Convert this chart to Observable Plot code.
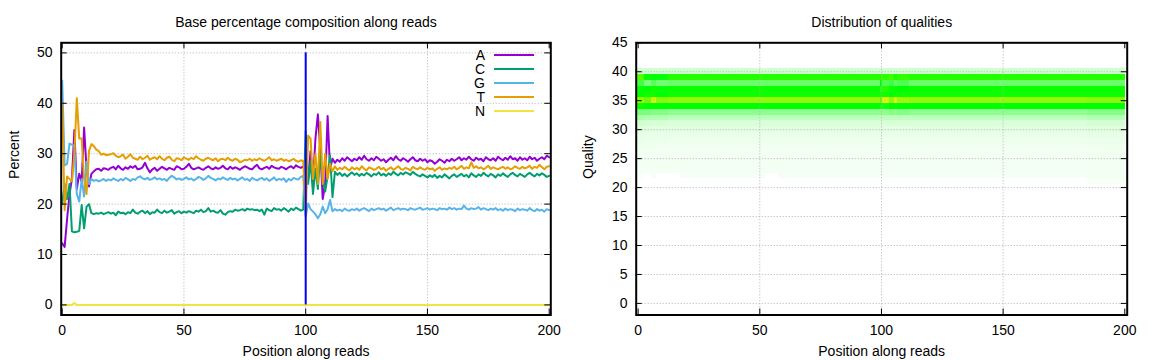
<!DOCTYPE html>
<html><head><meta charset="utf-8">
<script src="https://cdn.jsdelivr.net/npm/d3@7"></script>
<script src="https://cdn.jsdelivr.net/npm/@observablehq/plot@0.6"></script>
<style>
html,body{margin:0;padding:0;background:#fff;}
#wrap{display:flex;width:1152px;height:360px;overflow:hidden;}
#wrap svg{display:block;flex:none;}
</style></head><body><div id="wrap"></div>
<script>
// ---------- data ----------
const positions = d3.range(0, 201);
const baseNames = ["A", "C", "G", "T", "N"];
const baseColors = ["#9400d3", "#009e73", "#56b4e9", "#e69f00", "#f0e442"];

const seriesA = [
12.2,11.5,17.0,22.0,25.0,34.7,23.0,26.0,24.5,35.2,
27.0,23.5,26.0,26.5,26.9,27.0,26.6,27.1,27.0,26.8,
27.2,27.4,26.9,27.6,27.1,26.8,27.3,27.0,27.5,27.2,
27.6,26.9,27.0,27.3,28.2,27.1,26.3,26.9,27.2,26.6,
27.0,27.4,27.1,26.8,27.2,27.0,26.8,27.5,27.3,26.9,
27.0,27.4,28.0,27.2,26.9,27.1,27.3,27.0,26.8,27.2,
27.5,27.1,26.9,27.3,27.0,27.2,27.6,27.1,26.9,27.4,
27.0,27.3,27.1,26.8,27.2,27.5,27.3,27.0,26.9,27.4,
27.8,27.1,26.9,27.2,27.4,27.0,27.6,27.3,27.1,27.0,
27.4,27.2,26.9,27.3,27.5,27.1,27.7,27.4,27.2,27.5,
27.3,25.0,30.5,24.0,33.0,37.8,31.0,21.0,24.0,37.5,
27.0,29.0,28.2,28.8,28.4,29.1,28.6,29.3,28.9,28.5,
29.0,28.7,29.3,28.8,29.6,28.9,28.6,29.1,28.7,29.4,
29.0,28.6,28.9,28.3,28.8,29.2,28.7,29.5,28.9,28.6,
29.1,28.8,28.4,28.9,29.3,28.7,28.5,29.0,28.6,28.9,
28.3,28.7,28.5,28.0,28.4,28.9,28.6,28.2,28.8,28.5,
29.0,28.6,28.9,29.3,28.7,29.1,28.8,29.4,28.9,28.6,
29.2,28.8,29.0,28.5,29.3,28.9,28.7,29.1,28.6,29.4,
29.0,28.7,29.2,28.8,29.5,28.9,29.1,28.6,29.3,28.8,
29.1,28.7,29.4,28.9,29.2,28.6,29.0,29.3,28.9,29.6,
29.3];

const seriesC = [
20.0,24.0,21.0,24.0,14.6,14.4,14.5,14.7,19.8,15.2,
19.5,20.0,18.2,18.0,18.2,18.1,18.3,18.0,18.2,18.4,
18.1,18.3,17.8,18.5,18.2,18.3,18.0,18.4,18.2,18.9,
18.3,18.1,18.5,18.7,18.2,18.6,18.0,18.4,18.3,18.9,
18.4,18.2,18.7,18.3,18.5,18.8,18.1,18.4,18.6,18.2,
18.5,18.3,18.6,18.4,18.2,18.7,18.5,18.9,18.4,18.6,
19.2,18.5,18.7,18.4,18.3,18.8,18.1,17.9,18.4,18.6,
18.5,18.9,18.7,18.8,19.0,18.7,19.1,18.9,19.0,18.8,
18.9,18.6,18.9,17.9,19.1,18.8,18.6,19.2,18.9,19.0,
18.7,19.2,18.9,18.5,19.1,18.8,19.3,19.0,18.7,18.9,
34.5,24.0,28.5,22.0,27.0,23.0,30.0,25.0,22.5,25.5,
29.7,21.4,26.4,25.8,26.2,25.6,26.0,25.5,25.9,26.3,
25.8,26.1,25.6,26.0,25.7,26.2,25.9,25.5,26.0,25.8,
26.3,25.7,26.0,25.6,26.1,25.8,26.4,26.0,25.7,26.2,
25.9,26.3,26.1,25.8,26.4,26.0,25.7,25.5,25.9,25.6,
25.3,25.7,25.4,25.8,25.2,25.6,25.3,25.9,25.5,25.1,
25.6,25.9,25.4,25.7,26.0,25.5,25.8,25.3,26.1,25.7,
25.4,25.9,25.6,26.2,25.8,25.5,26.0,25.7,25.3,25.9,
25.6,26.1,25.7,25.4,25.9,26.2,25.8,25.5,26.0,25.7,
25.4,25.9,26.2,25.8,25.5,26.0,25.7,26.1,25.8,25.4,
25.6];

const seriesG = [
44.5,27.7,28.0,32.0,31.8,31.5,22.0,20.5,25.0,21.5,
28.4,24.0,25.0,24.6,24.8,24.5,24.7,25.0,24.6,24.9,
24.7,25.1,24.8,24.6,25.0,24.7,25.2,24.9,24.6,25.0,
24.8,25.3,25.5,25.1,24.9,25.2,24.8,25.0,25.3,24.9,
25.1,24.8,25.0,24.6,25.2,25.6,25.3,24.9,25.1,24.8,
25.0,25.3,24.9,25.1,24.7,25.0,25.4,25.2,24.8,25.1,
25.6,25.2,25.0,24.7,25.1,24.9,25.3,25.0,24.8,25.2,
24.9,25.1,24.7,25.0,25.3,24.8,25.0,24.6,25.2,24.9,
24.7,25.0,25.2,24.8,25.1,24.6,24.9,25.3,24.7,25.0,
24.8,25.1,24.4,25.0,24.7,25.2,25.0,24.9,25.4,25.6,
17.5,20.1,19.0,18.5,18.0,17.2,18.0,19.5,18.2,19.0,
20.8,18.6,19.0,18.7,18.9,18.6,19.1,18.8,18.7,19.0,
18.8,19.1,18.7,19.0,19.2,18.9,18.6,19.1,18.8,19.0,
19.2,18.9,19.1,18.7,19.0,19.3,18.8,19.0,19.2,18.9,
19.1,19.0,18.8,19.2,19.0,18.9,19.1,19.3,18.9,19.0,
19.2,18.9,19.1,19.0,18.8,19.2,19.0,19.1,18.9,19.3,
19.0,19.2,18.9,19.1,19.0,19.7,19.1,18.9,19.2,19.0,
19.1,19.4,18.9,19.2,19.0,18.8,19.1,18.9,19.2,18.8,
19.0,18.7,19.1,18.8,19.0,18.9,18.6,19.1,18.8,19.0,
18.9,18.7,19.2,18.8,18.6,19.0,18.7,18.9,18.5,19.0,
18.8];

const seriesT = [
40.0,18.8,25.5,25.0,24.5,30.0,41.0,33.0,33.0,25.0,
22.0,30.5,31.9,31.5,30.8,30.5,29.8,30.0,29.7,29.8,
29.9,30.1,29.6,29.3,29.5,29.8,29.0,29.4,29.9,29.2,
29.0,28.8,29.4,28.9,29.2,29.6,28.8,29.1,29.3,28.9,
29.5,29.0,28.7,29.2,29.4,28.8,28.5,29.1,29.0,28.7,
29.3,29.0,28.8,29.2,28.9,29.5,29.1,28.8,28.6,29.0,
29.2,28.9,28.7,29.1,28.5,28.9,29.0,28.7,29.2,28.8,
28.6,29.0,28.8,28.3,28.5,28.8,28.7,29.0,28.6,28.9,
28.7,29.1,28.8,28.6,28.9,29.3,28.7,28.9,28.6,28.8,
29.0,28.6,28.8,28.5,28.7,29.0,28.6,28.4,28.7,28.5,
17.8,33.6,33.0,25.0,30.0,24.0,36.3,24.0,30.0,25.0,
28.0,26.5,27.5,26.8,27.2,26.9,27.4,27.0,26.7,27.3,
26.9,27.2,26.8,27.5,27.0,26.7,27.3,27.1,26.8,27.0,
27.4,26.9,27.2,26.6,27.0,27.3,26.8,27.1,27.5,27.0,
26.8,27.2,27.0,26.7,27.4,27.1,26.9,27.3,27.0,26.8,
27.2,26.9,27.1,26.6,27.0,27.3,26.8,27.1,26.9,27.2,
27.0,27.4,26.9,27.2,27.6,27.0,27.3,27.1,28.3,27.2,
27.5,27.1,27.3,26.9,27.2,27.6,27.0,27.3,27.1,26.9,
27.2,27.4,27.0,27.3,26.9,27.1,27.5,27.2,27.0,27.4,
27.1,27.3,27.6,27.0,27.4,27.2,27.8,27.3,26.9,27.4,
27.5];

const seriesN = [
0,0,0,0,0,0.4,0,0,0,0, 0,0,0,0,0,0,0,0,0,0, 0,0,0,0,0,0,0,0,0,0,
0,0,0,0,0,0,0,0,0,0, 0,0,0,0,0,0,0,0,0,0, 0,0,0,0,0,0,0,0,0,0,
0,0,0,0,0,0,0,0,0,0, 0,0,0,0,0,0,0,0,0,0, 0,0,0,0,0,0,0,0,0,0,
0,0,0,0,0,0,0,0,0,0, 0,0,0,0,0,0,0,0,0,0, 0,0,0,0,0,0,0,0,0,0,
0,0,0,0,0,0,0,0,0,0, 0,0,0,0,0,0,0,0,0,0, 0,0,0,0,0,0,0,0,0,0,
0,0,0,0,0,0,0,0,0,0, 0,0,0,0,0,0,0,0,0,0, 0,0,0,0,0,0,0,0,0,0,
0,0,0,0,0,0,0,0,0,0, 0,0,0,0,0,0,0,0,0,0,
0];

const cutPosition = [100];
const cutExtent = [0, 50];

const xTicks = [0, 50, 100, 150, 200];
const xGridTicks = [50, 100, 150];
const yTicksComp = [0, 10, 20, 30, 40, 50];
const yTicksQual = [0, 5, 10, 15, 20, 25, 30, 35, 40, 45];

// quality heatmap: percentage of reads per quality, per run of positions
const qualities = [40, 39, 38, 37, 36, 35, 34, 33, 32, 31, 30, 29, 28, 27, 26, 25, 24, 23, 22, 21];
const heatSegStart = [0, 3, 6, 8, 13, 18, 53, 58, 100, 101, 104, 106, 107, 112, 185];
const heatSegEnd   = [2, 5, 7, 12, 17, 52, 57, 99, 100, 103, 105, 106, 111, 184, 200];
const heatSegValues = [
  [2.5,17.0,10.0,13.0,13.5,19.5,14.0,7.0,4.5,2.5,1.8,1.3,1.1,0.9,0.8,0.7,0.6,0.5,0.4,0],
  [2.5,13.0, 7.0,13.5,14.0,18.0,13.5,7.0,4.0,2.3,1.7,1.2,1.0,0.9,0.8,0.7,0.6,0.5,0,0],
  [2.5,13.5, 9.0,14.0,14.0,22.0,13.5,6.5,4.0,2.2,1.6,1.2,1.0,0.9,0.7,0.7,0.6,0.6,0.5,0],
  [2.5,13.0, 7.5,13.0,13.5,19.0,13.5,6.5,4.0,2.2,1.6,1.2,1.0,0.8,0.7,0.7,0.6,0.6,0,0],
  [2.5,15.0, 8.0,14.0,14.0,19.5,13.5,6.0,3.5,2.0,1.5,1.1,0.9,0.8,0.7,0.7,0.6,0.6,0,0],
  [2.5,15.0, 8.0,14.0,14.0,19.5,13.5,6.0,3.5,2.0,1.5,1.1,0.9,0.8,0.7,0.7,0.6,0.6,0.5,0],
  [2.5,15.0, 8.0,14.0,14.0,19.5,13.5,6.0,3.5,2.0,1.5,1.1,0.9,0.8,0.7,0.7,0.6,0.6,0,0],
  [2.5,15.0, 8.0,14.0,14.0,19.5,13.5,6.0,3.5,2.0,1.5,1.1,0.9,0.8,0.7,0.7,0.6,0.6,0.5,0],
  [2.5,15.0,13.5,12.0,14.0,17.5,14.0,6.0,3.5,2.0,1.5,1.1,0.9,0.8,0.7,0.7,0.6,0.6,0.5,0],
  [2.5,15.5, 9.5,15.0,14.0,22.5,12.5,6.0,3.5,2.0,1.5,1.1,0.9,0.8,0.7,0.7,0.6,0.6,0.5,0],
  [2.5,16.0,10.0,13.0,13.5,19.5,13.5,6.5,3.5,2.0,1.5,1.1,0.9,0.8,0.7,0.7,0.6,0.6,0.5,0],
  [2.5,14.5, 8.5,14.0,14.0,22.5,13.0,6.0,3.5,2.0,1.5,1.1,0.9,0.8,0.7,0.7,0.6,0.6,0.5,0],
  [2.5,15.5, 9.5,13.5,14.0,20.0,13.5,6.5,3.5,2.0,1.5,1.1,0.9,0.8,0.7,0.7,0.6,0.6,0.5,0],
  [2.5,15.0, 8.0,14.0,14.0,19.5,13.5,6.0,3.5,2.0,1.5,1.1,0.9,0.8,0.7,0.7,0.6,0.6,0.5,0],
  [2.5,15.0, 8.0,14.0,14.0,19.0,13.5,6.5,4.0,2.3,1.7,1.3,1.0,0.9,0.8,0.8,0.7,0.7,0.6,0.4]
];

// ---------- layout ----------
const W = 576, H = 360, TICK = 6;
const FONT = "'Liberation Sans', Arial, Helvetica, sans-serif";
const X_LABEL = "Position along reads";

function panel(cfg) {
  const {mt, mr, mb, ml, xDomain, yDomain, yTicks} = cfg;
  const innerW = W - ml - mr, innerH = H - mt - mb;
  const tx = (xDomain[1] - xDomain[0]) / innerW * TICK;
  const ty = (yDomain[1] - yDomain[0]) / innerH * TICK;
  const grid = {stroke: "#b0b0b0", strokeWidth: 1, strokeDasharray: "1,2"};
  const tick = {stroke: "#000", strokeWidth: 1};
  return Plot.plot({
    width: W, height: H,
    marginTop: mt, marginRight: mr, marginBottom: mb, marginLeft: ml,
    x: {domain: xDomain, axis: null},
    y: {domain: yDomain, axis: null},
    color: cfg.color,
    style: {fontFamily: FONT, fontSize: "14px", background: "#fff", color: "#000"},
    marks: [
      ...(cfg.under || []),
      Plot.ruleX(xGridTicks, {x: d => d, ...grid}),
      Plot.ruleY(yTicks, {y: d => d, ...grid}),
      ...(cfg.over || []),
      Plot.ruleX(xTicks, {x: d => d, y1: yDomain[0], y2: yDomain[0] + ty, ...tick}),
      Plot.ruleX(xTicks, {x: d => d, y1: yDomain[1] - ty, y2: yDomain[1], ...tick}),
      Plot.ruleY(yTicks, {y: d => d, x1: xDomain[0], x2: xDomain[0] + tx, ...tick}),
      Plot.ruleY(yTicks, {y: d => d, x1: xDomain[1] - tx, x2: xDomain[1], ...tick}),
      Plot.frame({stroke: "#000", strokeWidth: 2}),
      Plot.text(xTicks, {x: d => d, text: d => String(d), frameAnchor: "bottom", dy: 20, lineAnchor: "bottom", fontSize: 14}),
      Plot.text(yTicks, {y: d => d, text: d => String(d), frameAnchor: "left", dx: -8.7, textAnchor: "end", lineAnchor: "middle", fontSize: 14}),
      Plot.text([cfg.title], {text: d => d, frameAnchor: "top", dy: -15.6, lineAnchor: "bottom", fontSize: 14}),
      Plot.text([X_LABEL], {text: d => d, frameAnchor: "bottom", dy: 40.5, lineAnchor: "bottom", fontSize: 14}),
      Plot.text([cfg.yLabel], {text: d => d, frameAnchor: "left", dx: cfg.yLabelDx, rotate: -90, lineAnchor: "bottom", fontSize: 14})
    ]
  });
}

// ---------- left: base composition ----------
const allSeries = [seriesA, seriesC, seriesG, seriesT, seriesN];
const compData = baseNames.map((b, i) => positions.map((p, j) => ({base: b, pos: p, pct: allSeries[i][j]})));

const left = panel({
  mt: 42.3, mr: 25.7, mb: 45.5, ml: 60.7,
  xDomain: [-0.41, 200.66], yDomain: [-2, 52], yTicks: yTicksComp,
  title: "Base percentage composition along reads",
  yLabel: "Percent", yLabelDx: -42.4,
  over: [
    ...compData.map((rows, i) => Plot.line(rows, {x: "pos", y: "pct", stroke: baseColors[i], strokeWidth: 2})),
    Plot.ruleX(cutPosition, {x: d => d, y1: cutExtent[0], y2: cutExtent[1], stroke: "#0000ff", strokeWidth: 2})
  ]
});

// legend
const lg = d3.select(left).append("g").attr("font-family", FONT).attr("font-size", 14);
baseNames.forEach((b, i) => {
  const y = 55 + i * 14;
  lg.append("text").attr("x", 485).attr("y", y).attr("dy", "0.35em").attr("text-anchor", "end").attr("fill", "#000").text(b);
  lg.append("line").attr("x1", 494).attr("x2", 534).attr("y1", y).attr("y2", y)
    .attr("stroke", baseColors[i]).attr("stroke-width", 2);
});

// ---------- right: quality distribution ----------
const heatData = [];
heatSegStart.forEach((s, k) => {
  qualities.forEach((q, r) => {
    const v = heatSegValues[k][r];
    if (v > 0) heatData.push({x1: s - 0.5, x2: heatSegEnd[k] + 0.5, y1: q - 0.5, y2: q + 0.5, v});
  });
});

const right = panel({
  mt: 42.3, mr: 25.3, mb: 45.5, ml: 59.7,
  xDomain: [-0.8, 201], yDomain: [-2, 45], yTicks: yTicksQual,
  title: "Distribution of qualities",
  yLabel: "Quality", yLabelDx: -43.2,
  color: {type: "linear", domain: [0, 13.5, 24], range: ["#ffffff", "#00ff00", "#ffff00"], interpolate: "rgb", clamp: true},
  under: [
    Plot.rect(heatData, {x1: "x1", x2: "x2", y1: "y1", y2: "y2", fill: "v", shapeRendering: "crispEdges"})
  ]
});

document.getElementById("wrap").append(left, right);
</script>
</body></html>
